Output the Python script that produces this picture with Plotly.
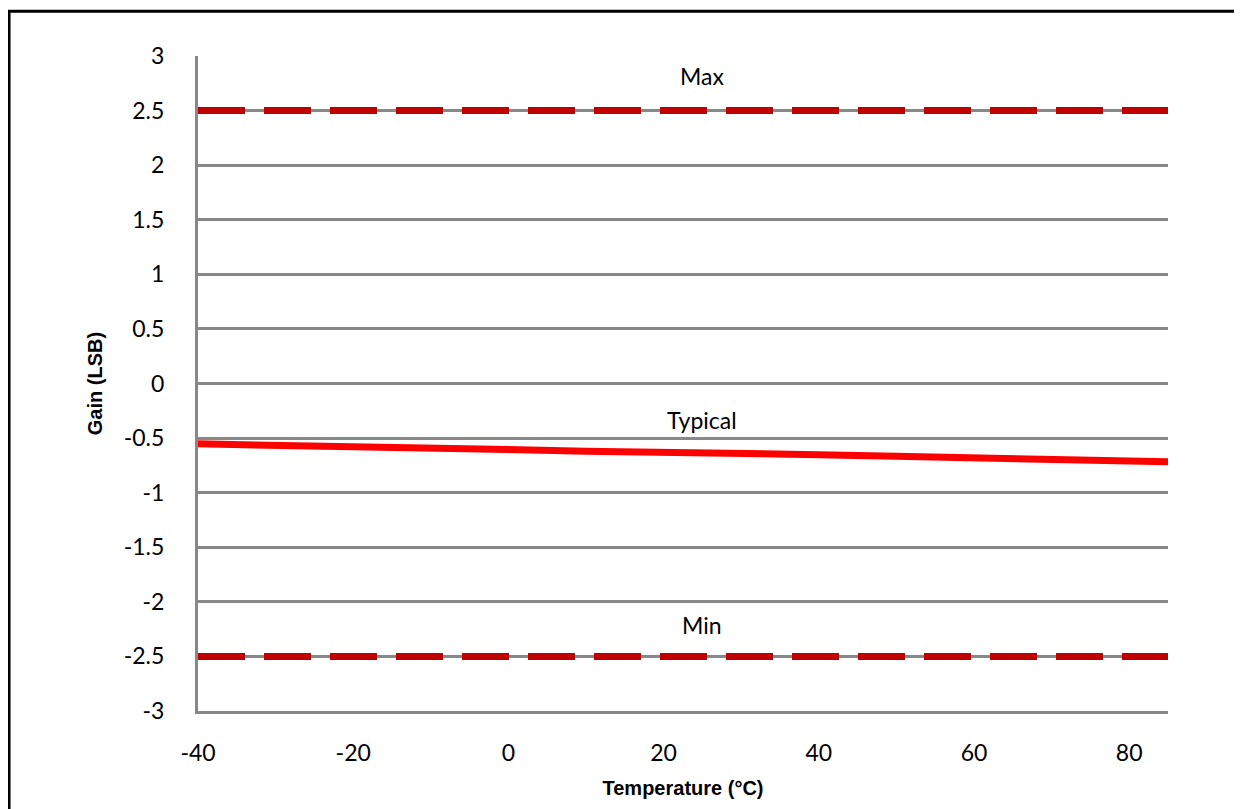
import plotly.graph_objects as go

# Data
temp_limits = [-40, 85]
max_gain = [2.5, 2.5]
min_gain = [-2.5, -2.5]

temp_typ = [-40, -30, -20, -10, 0, 10, 17, 25, 33, 40, 50, 60, 70, 85]
gain_typ = [-0.553, -0.563, -0.575, -0.588, -0.605, -0.620, -0.624, -0.632, -0.635,
            -0.652, -0.667, -0.680, -0.693, -0.716]

x_ticks = [-40, -20, 0, 20, 40, 60, 80]
x_ticktext = ["-40", "-20", "0", "20", "40", "60", "80"]
y_ticks = [-3, -2.5, -2, -1.5, -1, -0.5, 0, 0.5, 1, 1.5, 2, 2.5, 3]
y_ticktext = ["-3", "-2.5", "-2", "-1.5", "-1", "-0.5", "0", "0.5", "1", "1.5", "2", "2.5", "3"]

labels = ["Max", "Typical", "Min"]
label_x = [25, 25, 25]
label_y = [2.82, -0.33, -2.21]

TICK_FONT = dict(family="Lato, 'Open Sans', sans-serif", size=23, color="#000000")
TITLE_FONT = dict(family="Liberation Sans, Arial, sans-serif", size=20, color="#000000")

fig = go.Figure()
fig.add_trace(go.Scatter(x=temp_limits, y=max_gain, mode="lines",
                         line=dict(color="#C00000", width=7, dash="47px,19px"),
                         showlegend=False, hoverinfo="skip"))
fig.add_trace(go.Scatter(x=temp_limits, y=min_gain, mode="lines",
                         line=dict(color="#C00000", width=7, dash="47px,19px"),
                         showlegend=False, hoverinfo="skip"))
fig.add_trace(go.Scatter(x=temp_typ, y=gain_typ, mode="lines",
                         line=dict(color="#FF0000", width=7),
                         showlegend=False, hoverinfo="skip"))

for t, xx, yy in zip(labels, label_x, label_y):
    fig.add_annotation(x=xx, y=yy, text=t, showarrow=False,
                       font=TICK_FONT, xanchor="center", yanchor="middle")

# outer black frame (extends beyond the canvas like the reference)
fig.add_shape(type="rect", xref="paper", yref="paper",
              x0=-0.1948, x1=1.09, y0=-0.17, y1=1.0685,
              line=dict(color="#000000", width=3), layer="above")

fig.update_layout(
    width=1234, height=801,
    margin=dict(l=190, r=74, t=48, b=94),
    paper_bgcolor="white", plot_bgcolor="white",
    xaxis=dict(range=[-40, 85], tickvals=x_ticks, ticktext=x_ticktext, showgrid=False,
               zeroline=False, showline=True, linecolor="#888888", linewidth=3,
               ticks="", tickfont=TICK_FONT, ticklabelstandoff=19,
               title=dict(text="<b>Temperature (°C)</b>", font=TITLE_FONT, standoff=17)),
    yaxis=dict(range=[-3, 3], tickvals=y_ticks, ticktext=y_ticktext,
               showgrid=True, gridcolor="#888888", gridwidth=3,
               zeroline=False, showline=True, linecolor="#888888", linewidth=3,
               ticks="", tickfont=TICK_FONT, ticklabelstandoff=26,
               title=dict(text="<b>Gain (LSB)</b>", font=TITLE_FONT, standoff=16)),
)

fig.write_html("out.html")
